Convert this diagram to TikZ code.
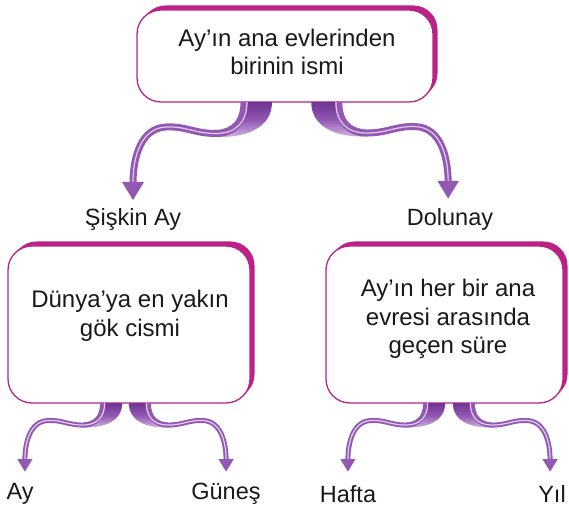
\documentclass[tikz,border=0pt]{standalone}
\usepackage{fontspec}
\setmainfont{Liberation Sans}
\usetikzlibrary{shadows}
\definecolor{mag}{RGB}{186,34,136}
\definecolor{pdark}{RGB}{112,52,146}
\definecolor{plight}{RGB}{212,182,230}
\definecolor{pmid}{RGB}{146,88,178}
\newcommand\purpleribbon[5]{%
 \begin{scope}[shift={(#1,#2)}, xscale=#3, scale=#4]
   \shade[top color=pdark, bottom color=plight, middle color=pmid]
     (-12,0) .. controls (-12,16) and (-24,27) .. (-40,28) -- (-40,35)
     .. controls (-10,36) and (16,26) .. (16,0) -- cycle;
   \draw[pmid, line width=#5pt] (-12,0) .. controls (-12,20) and (-22,31.5) .. (-40,31.5)
     .. controls (-62,31.5) and (-70,24) .. (-90,25)
     .. controls (-115,26) and (-123,55) .. (-123,82);
   \draw[plight!70!white, line width=1.2pt] (-9,0) .. controls (-9,20) and (-20,31.5) .. (-40,31.5)
     .. controls (-62,31.5) and (-70,24) .. (-90,25)
     .. controls (-115,26) and (-123,55) .. (-123,80);
   \fill[pmid] (-134,80) -- (-112,80) -- (-123,98) -- cycle;
 \end{scope}}
\tikzset{
  box/.style={draw=mag, line width=1.3pt, fill=white, rounded corners=24pt,
    general shadow={fill=mag, shadow xshift=4.5pt, shadow yshift=4.5pt}},
  txt/.style={align=center, font=\fontsize{24}{28.5}\selectfont, text=black!90, inner sep=0pt},
  lbl/.style={font=\fontsize{23.5}{26}\selectfont, text=black!90, inner sep=0pt}
}
\begin{document}
\begin{tikzpicture}[x=1pt,y=-1pt]
\useasboundingbox (0,0) rectangle (569,510);
% boxes
\node[box, minimum width=296pt, minimum height=92pt] (top) at (285,56) {};
\node[box, minimum width=242pt, minimum height=157pt] (lbox) at (129,324.5) {};
\node[box, minimum width=237pt, minimum height=157pt] (rbox) at (444.5,324.5) {};
% texts
\node[txt] (toptxt) at (287,52) {Ay’ın ana evlerinden\\birinin ismi};
\node[txt] (ltxt) at (130,316) {Dünya’ya en yakın\\gök cismi};
\node[txt] (rtxt) at (448,319) {Ay’ın her bir ana\\evresi arasında\\geçen süre};
% labels
\node[lbl] (sis) at (133,219) {Şişkin Ay};
\node[lbl] (dol) at (450,219) {Dolunay};
\node[lbl] (ay) at (20,494) {Ay};
\node[lbl] (gun) at (226,494) {Güneş};
\node[lbl] (haf) at (348,494) {Hafta};
\node[lbl] (yil) at (552,494) {Yıl};
% ribbons
\purpleribbon{256}{102}{1}{1}{7}
\purpleribbon{327}{102}{-1}{0.985}{7}
\purpleribbon{111}{403}{1}{0.7}{5}
\purpleribbon{140}{403}{-1}{0.7}{5}
\purpleribbon{434}{403}{1}{0.7}{5}
\purpleribbon{464}{403}{-1}{0.7}{5}
\end{tikzpicture}
\end{document}
